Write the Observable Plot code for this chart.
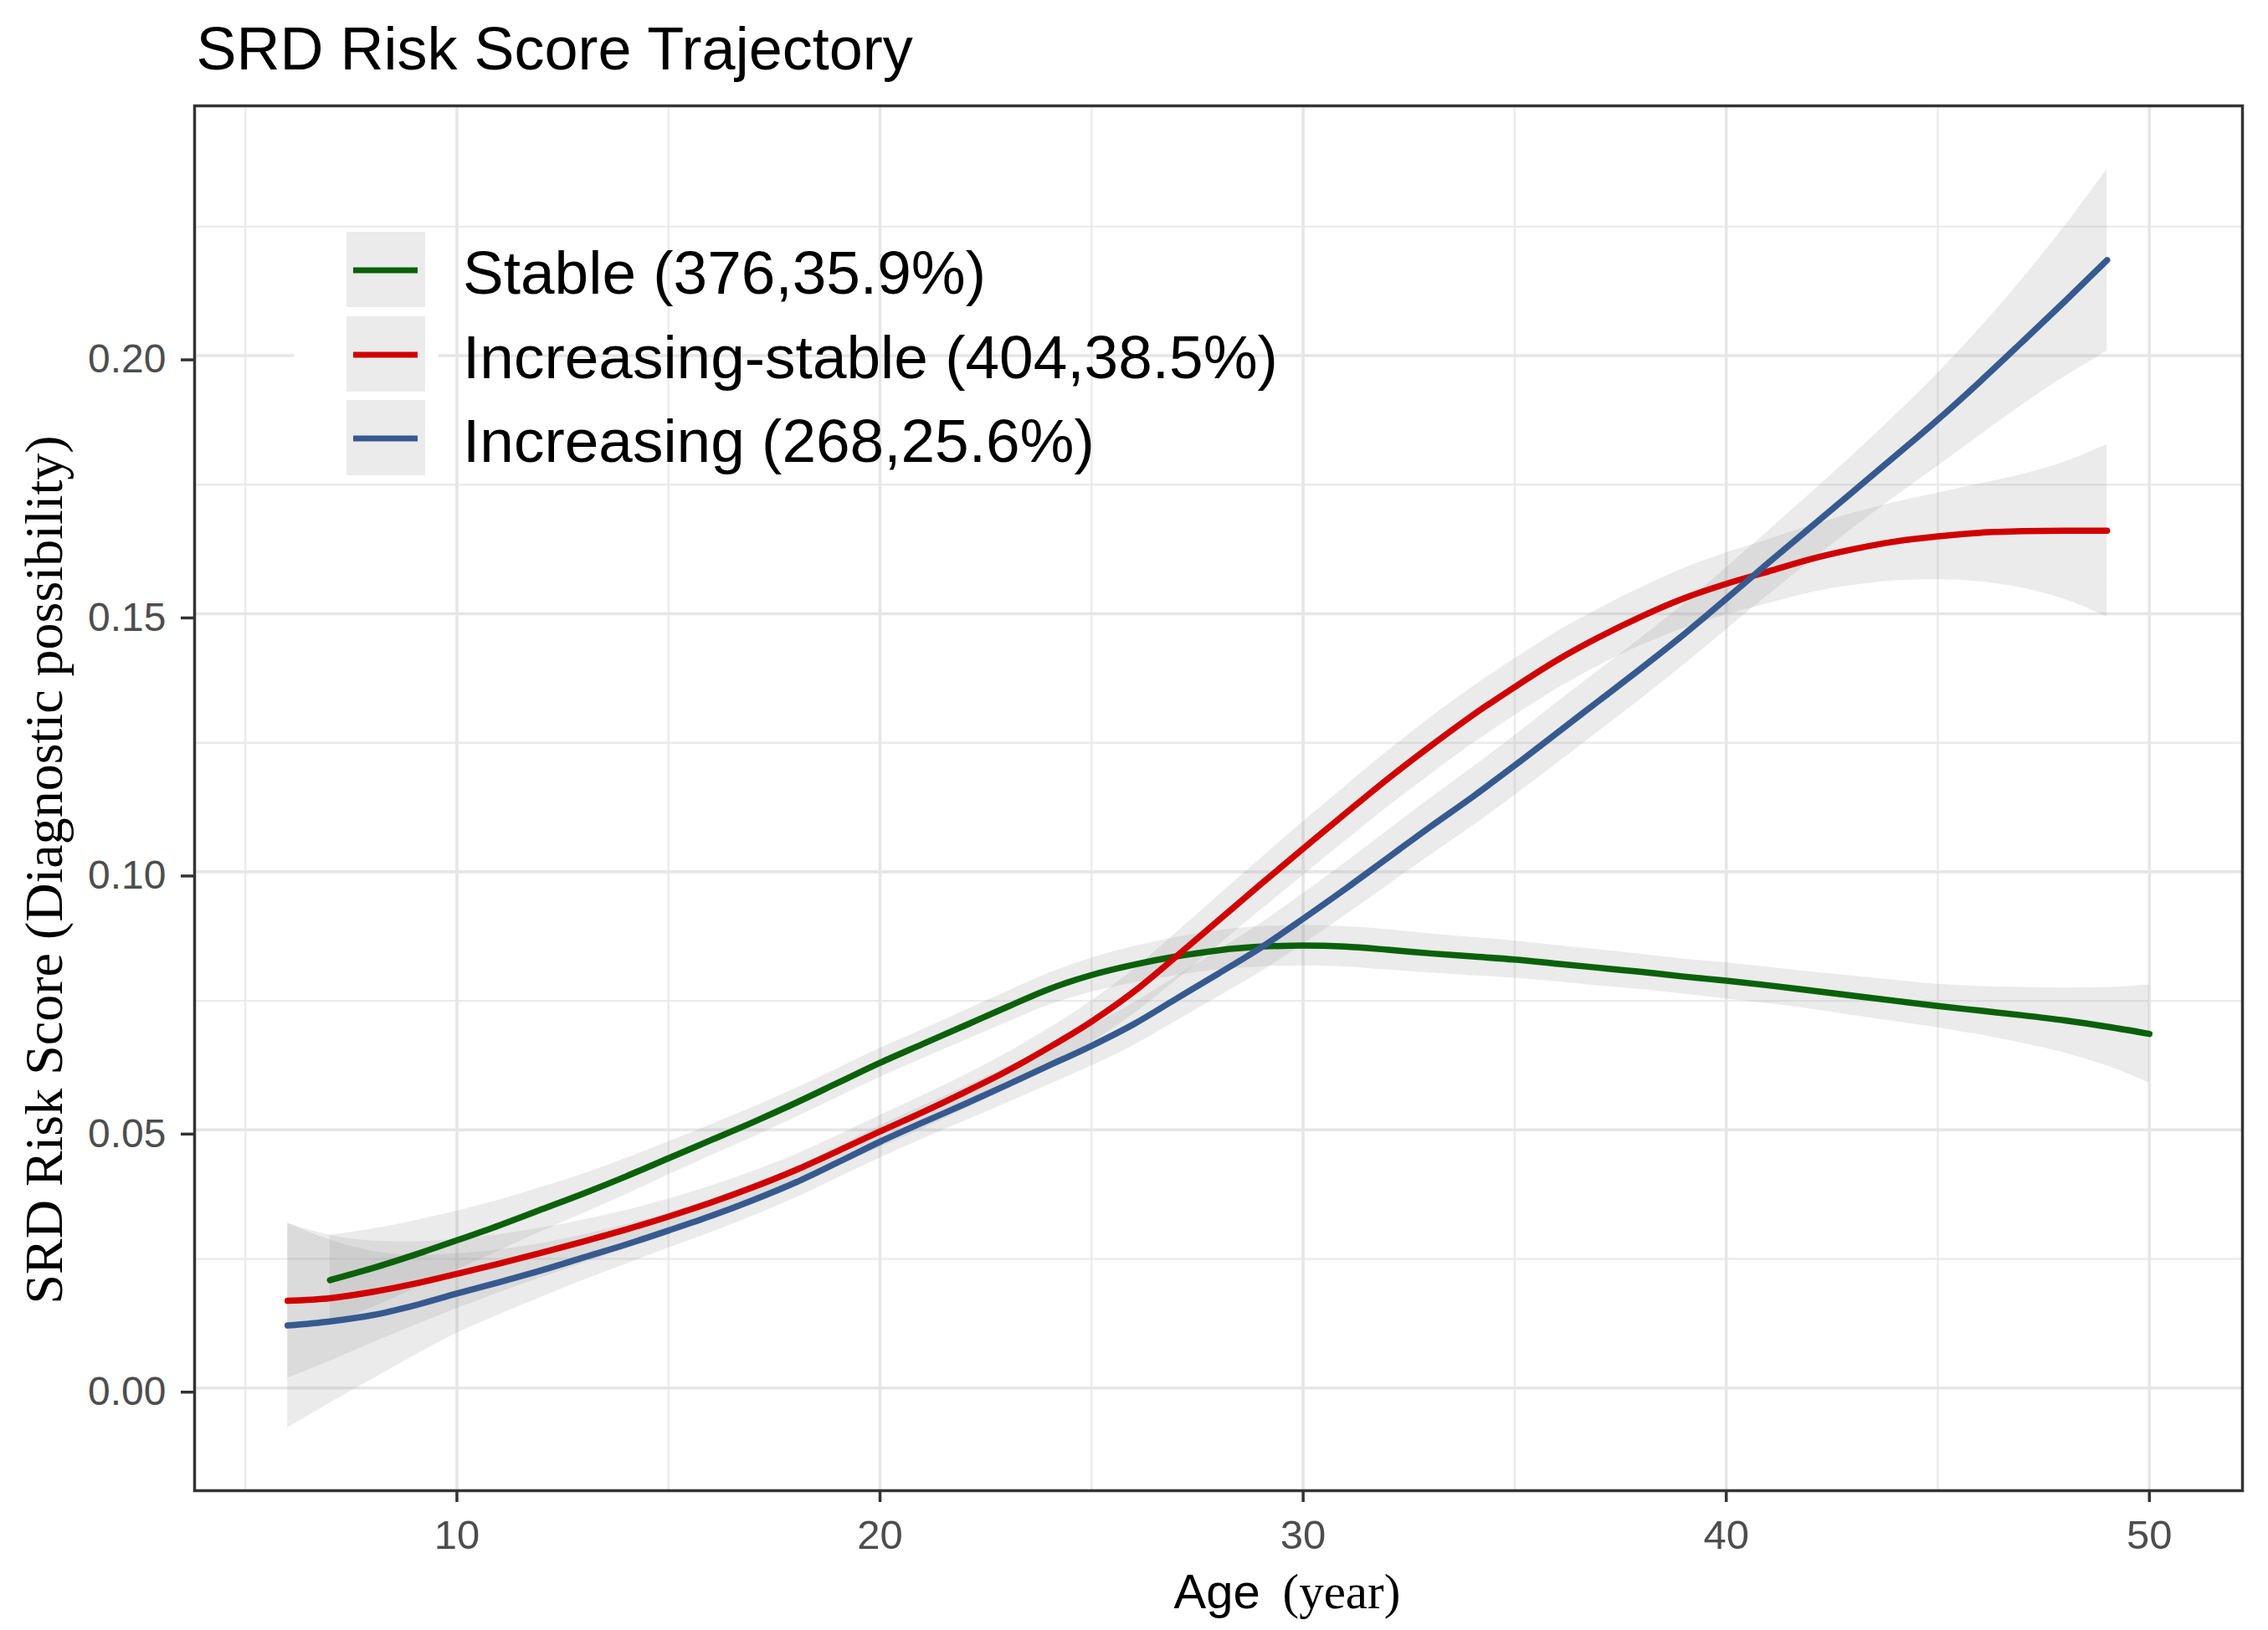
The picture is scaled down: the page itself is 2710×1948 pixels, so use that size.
<!DOCTYPE html>
<html>
<head>
<meta charset="utf-8">
<script src="https://cdn.jsdelivr.net/npm/d3@7"></script>
<script src="https://cdn.jsdelivr.net/npm/@observablehq/plot@0.6"></script>
<style>
  html, body { margin: 0; padding: 0; background: #ffffff; overflow: hidden; }
  #chart svg { display: block; }
</style>
</head>
<body>
<div id="chart"></div>
<script>
// ---------------- data ----------------
const titleText = "SRD Risk Score Trajectory";
const xLabelSans = "Age";
const xLabelSerif = "(year)";
const yLabelText = "SRD Risk Score (Diagnostic possibility)";

const seriesNames = ["Stable (376,35.9%)", "Increasing-stable (404,38.5%)", "Increasing (268,25.6%)"];
const seriesColors = ["#0a610a", "#d00000", "#365a8f"];

const xTicks = [10, 20, 30, 40, 50];
const xMinor = [5, 15, 25, 35, 45];
const yTicks = [0, 0.05, 0.10, 0.15, 0.20];
const yMinor = [0.025, 0.075, 0.125, 0.175, 0.225];

// Stable: ages 7..50
const stableAge = [7,8,9,10,11,12,13,14,15,16,17,18,19,20,21,22,23,24,25,26,27,28,29,30,31,32,33,34,35,36,37,38,39,40,41,42,43,44,45,46,47,48,49,50];
const stableVal = [0.0209,0.0232,0.0258,0.0286,0.0315,0.0346,0.0377,0.0410,0.0445,0.0480,0.0515,0.0552,0.0591,0.0630,0.0666,0.0702,0.0738,0.0773,0.0800,0.0820,0.0836,0.0848,0.0855,0.0857,0.0855,0.0849,0.0842,0.0836,0.0830,0.0822,0.0814,0.0806,0.0797,0.0789,0.0780,0.0770,0.0760,0.0750,0.0740,0.0731,0.0722,0.0712,0.0700,0.0686];
const stableCI = [0.0087,0.0076,0.0066,0.0057,0.0049,0.0043,0.0038,0.0035,0.0032,0.0030,0.0029,0.0028,0.0028,0.0028,0.0028,0.0029,0.0030,0.0031,0.0033,0.0035,0.0037,0.0038,0.0039,0.0039,0.0039,0.0039,0.0038,0.0037,0.0036,0.0035,0.0035,0.0034,0.0034,0.0035,0.0035,0.0036,0.0038,0.0040,0.0042,0.0047,0.0054,0.0063,0.0076,0.0095];

// Increasing-stable: ages 6..49
const incStableAge = [6,7,8,9,10,11,12,13,14,15,16,17,18,19,20,21,22,23,24,25,26,27,28,29,30,31,32,33,34,35,36,37,38,39,40,41,42,43,44,45,46,47,48,49];
const incStableVal = [0.0169,0.0174,0.0186,0.0202,0.0221,0.0241,0.0262,0.0284,0.0307,0.0332,0.0359,0.0389,0.0422,0.0459,0.0497,0.0534,0.0573,0.0614,0.0660,0.0710,0.0768,0.0836,0.0906,0.0976,0.1045,0.1113,0.1180,0.1243,0.1303,0.1358,0.1410,0.1455,0.1495,0.1530,0.1558,0.1582,0.1606,0.1625,0.1640,0.1650,0.1657,0.1660,0.1661,0.1661];
const incStableCI = [0.0150,0.0122,0.0099,0.0081,0.0067,0.0056,0.0048,0.0042,0.0037,0.0034,0.0032,0.0031,0.0030,0.0030,0.0031,0.0032,0.0033,0.0035,0.0037,0.0040,0.0043,0.0046,0.0048,0.0050,0.0052,0.0053,0.0054,0.0055,0.0055,0.0055,0.0055,0.0055,0.0056,0.0058,0.0060,0.0062,0.0065,0.0070,0.0076,0.0084,0.0095,0.0110,0.0133,0.0167];

// Increasing: ages 6..49
const incAge = [6,7,8,9,10,11,12,13,14,15,16,17,18,19,20,21,22,23,24,25,26,27,28,29,30,31,32,33,34,35,36,37,38,39,40,41,42,43,44,45,46,47,48,49];
const incVal = [0.0121,0.0129,0.0141,0.0160,0.0183,0.0205,0.0228,0.0253,0.0278,0.0305,0.0333,0.0364,0.0398,0.0437,0.0477,0.0514,0.0550,0.0587,0.0625,0.0663,0.0705,0.0754,0.0803,0.0853,0.0909,0.0967,0.1027,0.1087,0.1145,0.1206,0.1269,0.1332,0.1395,0.1460,0.1529,0.1599,0.1668,0.1737,0.1806,0.1876,0.1950,0.2027,0.2105,0.2185];
const incCI = [0.0198,0.0158,0.0124,0.0097,0.0077,0.0063,0.0052,0.0044,0.0038,0.0034,0.0032,0.0031,0.0030,0.0030,0.0031,0.0032,0.0033,0.0035,0.0037,0.0039,0.0041,0.0043,0.0045,0.0047,0.0049,0.0051,0.0053,0.0055,0.0057,0.0058,0.0059,0.0059,0.0059,0.0059,0.0060,0.0062,0.0066,0.0071,0.0079,0.0090,0.0104,0.0122,0.0146,0.0176];

// ---------------- table ----------------
const groups = [
  {name: seriesNames[0], age: stableAge, val: stableVal, ci: stableCI},
  {name: seriesNames[1], age: incStableAge, val: incStableVal, ci: incStableCI},
  {name: seriesNames[2], age: incAge, val: incVal, ci: incCI}
];
const rows = [];
for (const g of groups) {
  g.age.forEach((a, i) => rows.push({group: g.name, age: a, v: g.val[i], lo: g.val[i] - g.ci[i], hi: g.val[i] + g.ci[i]}));
}

// ---------------- layout ----------------
const W = 2710, H = 1948;
const mL = 232, mR = 31, mT = 126, mB = 167;

const sans = "'Liberation Sans', Arial, Helvetica, sans-serif";
const serif = "'Liberation Serif', 'Times New Roman', serif";

const chart = Plot.plot({
  width: W,
  height: H,
  marginLeft: mL,
  marginRight: mR,
  marginTop: mT,
  marginBottom: mB,
  style: {fontFamily: sans, background: "#ffffff", overflow: "visible"},
  x: {domain: [3.8, 52.2]},
  y: {domain: [-0.0199, 0.2484]},
  color: {domain: seriesNames, range: seriesColors},
  marks: [
    Plot.ruleX(xMinor, {stroke: "#ebebeb", strokeWidth: 2.4}),
    Plot.ruleY(yMinor, {stroke: "#ebebeb", strokeWidth: 2.4}),
    Plot.ruleX(xTicks, {stroke: "#e6e6e6", strokeWidth: 3.6}),
    Plot.ruleY(yTicks, {stroke: "#e6e6e6", strokeWidth: 3.6}),
    Plot.areaY(rows, {x: "age", y1: "lo", y2: "hi", z: "group", fill: "#999999", fillOpacity: 0.2, curve: "monotone-x"}),
    Plot.line(rows, {x: "age", y: "v", z: "group", stroke: "group", strokeWidth: 7.5, curve: "monotone-x"}),
    Plot.frame({stroke: "#333333", strokeWidth: 3.5}),
    Plot.axisX({ticks: xTicks, label: null, tickSize: 14, tickPadding: 21, fontSize: 49, stroke: "#333333", strokeWidth: 3.5, fill: "#4d4d4d", tickFormat: d3.format("d")}),
    Plot.axisY({ticks: yTicks, label: null, tickSize: 16, tickPadding: 18, fontSize: 48, stroke: "#333333", strokeWidth: 3.5, fill: "#4d4d4d", tickFormat: d3.format(".2f"), dy: 5}),
    Plot.text([titleText], {text: d => d, frameAnchor: "top-left", dx: 2, dy: 82 - mT, lineAnchor: "bottom", textAnchor: "start", fontSize: 72, fill: "#000000", fontFamily: sans}),
    Plot.text([xLabelSans], {text: d => d, frameAnchor: "top-left", dx: 1402 - mL, dy: 1921 - mT, lineAnchor: "bottom", textAnchor: "start", fontSize: 58, fill: "#000000", fontFamily: sans}),
    Plot.text([xLabelSerif], {text: d => d, frameAnchor: "top-left", dx: 1532 - mL, dy: 1921 - mT, lineAnchor: "bottom", textAnchor: "start", fontSize: 59, fill: "#000000", fontFamily: serif}),
    Plot.text([yLabelText], {text: d => d, frameAnchor: "top-left", dx: 73 - mL, dy: 1039 - mT, rotate: -90, lineAnchor: "bottom", textAnchor: "middle", fontSize: 64, fill: "#000000", fontFamily: serif})
  ]
});

// ---------------- legend (inside the panel) ----------------
const svg = d3.select(chart);
const lg = svg.append("g").attr("class", "legend").attr("text-anchor", "start");
lg.append("rect").attr("x", 351).attr("y", 272).attr("width", 173).attr("height", 300).attr("fill", "#ffffff");
const keyTop = [277, 378, 478];
seriesNames.forEach((name, i) => {
  const y0 = keyTop[i];
  lg.append("rect").attr("x", 414).attr("y", y0).attr("width", 94).attr("height", 90).attr("fill", "#ebebeb");
  lg.append("line").attr("x1", 422).attr("x2", 499).attr("y1", y0 + 46).attr("y2", y0 + 46)
    .attr("stroke", seriesColors[i]).attr("stroke-width", 7);
  lg.append("text").attr("x", 553).attr("y", y0 + 74).attr("font-size", 73).attr("font-family", sans)
    .attr("text-anchor", "start").attr("fill", "#000000").text(name);
});

document.getElementById("chart").appendChild(chart);
</script>
</body>
</html>
